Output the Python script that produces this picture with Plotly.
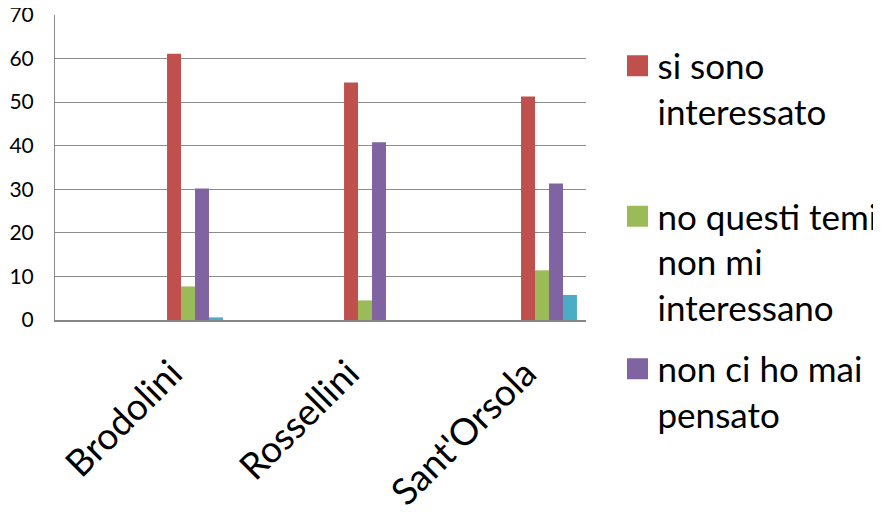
import plotly.graph_objects as go
import textwrap

categories = ["Brodolini", "Rossellini", "Sant'Orsola"]
series_names = ["si sono interessato", "no questi temi non mi interessano",
                "non ci ho mai pensato", "non so"]
values_si = [61.1, 54.5, 51.3]
values_no = [7.7, 4.5, 11.4]
values_mai = [30.2, 40.8, 31.3]
values_altro = [0.6, 0.0, 5.75]
y_ticks = [0, 10, 20, 30, 40, 50, 60, 70]

colors = ["#C0504D", "#9BBB59", "#8064A2", "#4BACC6"]
series_values = [values_si, values_no, values_mai, values_altro]
offsets = [0.133, 0.212, 0.291, 0.370]
legends = ["legend", "legend2", "legend3", None]

FONT = "Lato"

fig = go.Figure()
for i, (name, vals) in enumerate(zip(series_names, series_values)):
    fig.add_trace(go.Bar(
        x=categories, y=vals, name=name,
        marker=dict(color=colors[i], line=dict(width=0)),
        offset=offsets[i], width=0.079, showlegend=False))
    if legends[i]:
        # legend-only entry (no data points) so the key square matches the original size
        fig.add_trace(go.Scatter(
            x=[None], y=[None], mode="markers", legend=legends[i],
            name="<br>".join(textwrap.wrap(name, 15)),
            marker=dict(symbol="square", size=16, color=colors[i],
                        line=dict(color=colors[i], width=5)),
            hoverinfo="skip"))

# page body has an 8px margin: design coordinates are shifted by -8
OFF = 8
L, T, B_PIX = 55 - OFF, 14.5 - OFF, 320.5 - OFF
PW = 531
H = B_PIX - T

def ypaper(pix):
    return (B_PIX - (pix - OFF)) / H

def xpaper(pix):
    return ((pix - OFF) - L) / PW

leg_common = dict(font=dict(family=FONT, size=35, color="#000000"),
                  bgcolor="rgba(0,0,0,0)", valign="top", itemwidth=30,
                  xanchor="left", yanchor="top", x=xpaper(617.5),
                  xref="paper", yref="paper",
                  tracegroupgap=0, itemsizing="trace")

fig.update_layout(
    width=881, height=513,
    margin=dict(l=L, r=881 - L - PW, t=T, b=513 - B_PIX, autoexpand=False),
    paper_bgcolor="white", plot_bgcolor="white",
    barmode="overlay",
    font=dict(family=FONT, color="#000000"),
    legend=dict(leg_common, y=ypaper(36)),
    legend2=dict(leg_common, y=ypaper(187)),
    legend3=dict(leg_common, y=ypaper(340)),
    xaxis=dict(
        type="category", range=[-0.5, 2.5], automargin=False,
        showgrid=False, showline=True, linecolor="#868686", linewidth=2,
        ticks="", tickangle=-45, tickfont=dict(family=FONT, size=37),
        ticklabelshift=28, ticklabelstandoff=15, ticklabeloverflow="allow",
    ),
    yaxis=dict(
        range=[0, 70], tickvals=y_ticks, automargin=False,
        showgrid=True, gridcolor="#8C8C8C", gridwidth=1,
        showline=True, linecolor="#8C8C8C", linewidth=1,
        ticks="", tickfont=dict(family=FONT, size=21),
        ticklabelstandoff=16, zeroline=False, ticklabeloverflow="allow",
    ),
)

fig.write_html("out.html")
